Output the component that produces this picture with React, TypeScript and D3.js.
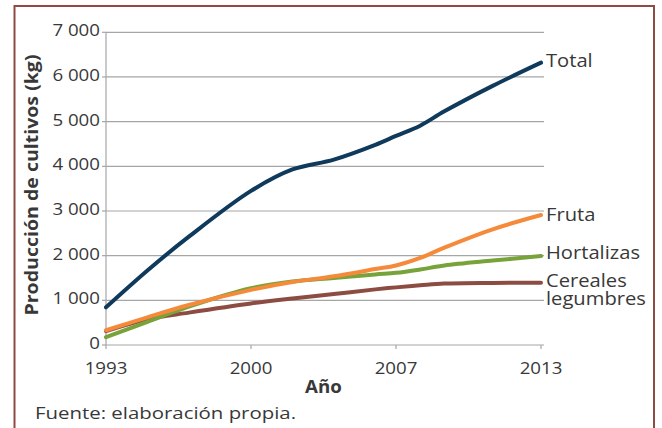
import React from "react";
import * as d3 from "d3";

const tickYears = [1993, 2000, 2007, 2013];
const yTicks = [0, 1000, 2000, 3000, 4000, 5000, 6000, 7000];
const sampleYears = [1993, 1995, 1997, 2000, 2002, 2004, 2006, 2007, 2008, 2009, 2011, 2013];
const totalValues = [843, 1668, 2425, 3450, 3930, 4150, 4480, 4680, 4910, 5230, 5800, 6320];
const frutaValues = [330, 620, 895, 1235, 1410, 1540, 1700, 1780, 1950, 2180, 2590, 2910];
const hortalizasValues = [175, 520, 860, 1270, 1420, 1500, 1580, 1615, 1690, 1780, 1890, 1990];
const cerealesValues = [310, 575, 725, 930, 1040, 1140, 1245, 1290, 1335, 1375, 1390, 1393];

const seriesNames = ["Total", "Fruta", "Hortalizas", "Cereales\nlegumbres"];
const seriesColors = ["#0f3a5c", "#f58a3a", "#77a33a", "#8c4c42"];
const seriesValues = [totalValues, frutaValues, hortalizasValues, cerealesValues];

const W = 662;
const H = 428;
const FONT = "'Open Sans', 'Noto Sans', sans-serif";
const TEXT = "#383838";

function SText(props: {
  x: number;
  y: number;
  sx?: number;
  rotate?: number;
  anchor?: string;
  size?: number;
  bold?: boolean;
  children: React.ReactNode;
}) {
  const { x, y, sx = 1.14, rotate = 0, anchor = "start", size = 17, bold = false, children } = props;
  return (
    <g transform={`translate(${x},${y}) rotate(${rotate}) scale(${sx},1)`}>
      <text x={0} y={0} textAnchor={anchor} fontSize={size} fontWeight={bold ? "bold" : "normal"} fill={TEXT}>
        {children}
      </text>
    </g>
  );
}

export default function App() {
  const left = 106;
  const right = 541;
  const top = 32.3;
  const bottom = 345;

  const x = d3
    .scaleLinear()
    .domain(tickYears)
    .range(tickYears.map((_, i) => left + (i * (right - left)) / (tickYears.length - 1)));
  const y = d3.scaleLinear().domain([0, 7000]).range([bottom, top]);

  const line = d3
    .line<[number, number]>()
    .x((d) => x(d[0]))
    .y((d) => y(d[1]))
    .curve(d3.curveCatmullRom.alpha(0.5));

  const fmt = (v: number) => (v >= 1000 ? d3.format(",")(v).replace(",", " ") : String(v));

  const labelOffsets = [4, 6, 3, 4];

  return (
    <svg
      width={W}
      height={H}
      style={{ position: "absolute", left: 0, top: 0, background: "#fff" }}
      fontFamily={FONT}
    >
      <rect x={14.5} y={6} width={639.5} height={H + 20} fill="none" stroke="#8e4b43" strokeWidth={2} />
      {yTicks.map((t) => (
        <g key={t}>
          {t > 0 && (
            <line x1={left} x2={right + 3} y1={y(t)} y2={y(t)} stroke="#a6a6a6" strokeWidth={1.2} />
          )}
          <line x1={left - 4} x2={left} y1={y(t)} y2={y(t)} stroke="#a6a6a6" strokeWidth={1.2} />
          <SText x={left - 6} y={y(t) + 4} anchor="end" sx={1.1}>
            {fmt(t)}
          </SText>
        </g>
      ))}
      <line x1={left} x2={left} y1={top} y2={bottom} stroke="#a6a6a6" strokeWidth={1.2} />
      <line x1={left} x2={right + 3} y1={bottom} y2={bottom} stroke="#a6a6a6" strokeWidth={1.2} />
      {tickYears.map((yr) => (
        <g key={yr}>
          <line x1={x(yr)} x2={x(yr)} y1={bottom} y2={bottom + 4} stroke="#a6a6a6" strokeWidth={1.2} />
          <SText x={x(yr)} y={374} anchor="middle" sx={1.1}>
            {yr}
          </SText>
        </g>
      ))}
      {seriesValues
        .map((vals, i) => ({ vals, i }))
        .reverse()
        .map(({ vals, i }) => (
          <path
            key={i}
            d={line(sampleYears.map((yr, k) => [yr, vals[k]] as [number, number])) || ""}
            fill="none"
            stroke={seriesColors[i]}
            strokeWidth={4}
            strokeLinecap="round"
          />
        ))}
      {seriesValues.map((vals, i) => {
        const lines = seriesNames[i].split("\n");
        const yy = y(vals[vals.length - 1]) + labelOffsets[i];
        return lines.map((l, k) => (
          <SText key={`${i}-${k}`} x={right + 5} y={yy + k * 18} size={18} sx={1.12}>
            {l}
          </SText>
        ));
      })}
      <SText x={38} y={185} rotate={-90} anchor="middle" bold sx={1.15}>
        Producción de cultivos (kg)
      </SText>
      <SText x={(left + right) / 2} y={393} anchor="middle" bold sx={1.1}>
        Año
      </SText>
      <SText x={35} y={419} sx={1.2}>
        Fuente: elaboración propia.
      </SText>
    </svg>
  );
}
